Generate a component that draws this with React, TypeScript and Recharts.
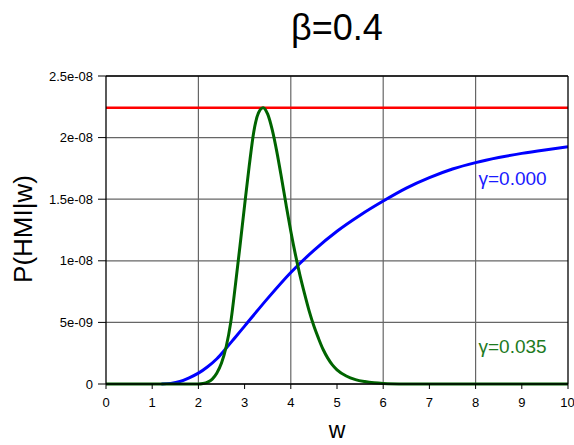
import { LineChart, Line, XAxis, YAxis, CartesianGrid, ReferenceDot } from 'recharts';

// values are in units of 1e-8
const wTicks = [0, 1, 2, 3, 4, 5, 6, 7, 8, 9, 10];
const gridW = [2, 4, 6, 8];
const pTicks = [0, 0.5, 1, 1.5, 2, 2.5];
const pTickLabels = ['0', '5e-09', '1e-08', '1.5e-08', '2e-08', '2.5e-08'];

const flatW = [0, 10];
const flatP = [2.243, 2.243];

const blueW = [1.2, 1.4, 1.6, 1.8, 2.0, 2.2, 2.4, 2.6, 2.8, 3.0, 3.5, 4.0, 4.5, 5.0, 5.5, 6.0, 6.5, 7.0, 7.5, 8.0, 8.5, 9.0, 9.5, 10.0];
const blueP = [0, 0.005, 0.02, 0.05, 0.088, 0.14, 0.205, 0.29, 0.38, 0.47, 0.695, 0.905, 1.085, 1.24, 1.37, 1.485, 1.59, 1.675, 1.745, 1.797, 1.838, 1.872, 1.9, 1.925];

const greenW = [0, 1, 2.0, 2.1, 2.2, 2.3, 2.4, 2.5, 2.6, 2.7, 2.8, 2.9, 3.0, 3.1, 3.2, 3.3, 3.4, 3.5, 3.6, 3.7, 3.8, 3.9, 4.0, 4.1, 4.2, 4.3, 4.4, 4.5, 4.6, 4.7, 4.8, 4.9, 5.0, 5.2, 5.4, 5.6, 5.8, 6.0, 6.5, 7.0, 8.0, 9.0, 10.0];
const greenP = [0, 0, 0, 0.004, 0.015, 0.04, 0.09, 0.17, 0.3, 0.5, 0.8, 1.12, 1.45, 1.77, 2.05, 2.2, 2.243, 2.19, 2.06, 1.88, 1.67, 1.45, 1.24, 1.05, 0.88, 0.73, 0.59, 0.47, 0.37, 0.28, 0.21, 0.155, 0.115, 0.065, 0.036, 0.02, 0.01, 0.005, 0.001, 0, 0, 0, 0];

const toRows = (w: number[], p: number[]) => w.map((x, i) => ({ w: x, p: p[i] }));

const flatData = toRows(flatW, flatP);
const blueData = toRows(blueW, blueP);
const greenData = toRows(greenW, greenP);

const font = '"Liberation Sans", Arial, Helvetica, sans-serif';
const tickStyle = { fontSize: 13, fill: '#000', fontFamily: font };

const renderTitle = () => (
  <text x={337} y={40} textAnchor="middle" fontSize={36} fontFamily={font} fill="#000">
    β=0.4
  </text>
);

const renderXLabel = () => (
  <text x={337} y={438} textAnchor="middle" fontSize={23} fontFamily={font} fill="#000">
    w
  </text>
);

const renderYLabel = () => (
  <text x={32} y={229} textAnchor="middle" fontSize={26} fontFamily={font} fill="#000" transform="rotate(-90, 32, 229)">
    P(HMI|w)
  </text>
);

export default function App() {
  return (
    <div style={{ position: 'absolute', left: 0, top: 0, width: 574, height: 445, background: '#fff' }}>
      <LineChart width={574} height={445} margin={{ top: 0, right: 0, bottom: 0, left: 0 }}>
        <CartesianGrid
          xAxisId="bottom"
          yAxisId="left"
          stroke="#666"
          strokeWidth={1.2}
          verticalValues={gridW}
          horizontalValues={pTicks}
        />
        <XAxis
          xAxisId="bottom"
          dataKey="w"
          type="number"
          domain={[0, 10]}
          ticks={wTicks}
          height={61}
          tickSize={5}
          tickMargin={9}
          tick={tickStyle}
          axisLine={{ stroke: '#000', strokeWidth: 1.3 }}
          tickLine={{ stroke: '#000' }}
          allowDataOverflow
          label={renderXLabel}
        />
        <XAxis
          xAxisId="top"
          orientation="top"
          dataKey="w"
          type="number"
          domain={[0, 10]}
          ticks={wTicks}
          height={76}
          tickSize={5}
          tick={false}
          axisLine={{ stroke: '#000', strokeWidth: 1.3 }}
          tickLine={{ stroke: '#000' }}
          label={renderTitle}
        />
        <YAxis
          yAxisId="left"
          type="number"
          domain={[0, 2.5]}
          ticks={pTicks}
          width={106}
          tickSize={8}
          tickMargin={5}
          tick={tickStyle}
          tickFormatter={(v: number) => pTickLabels[pTicks.indexOf(v)] ?? String(v)}
          axisLine={{ stroke: '#000', strokeWidth: 1.3 }}
          tickLine={{ stroke: '#000' }}
          label={renderYLabel}
        />
        <YAxis
          yAxisId="right"
          orientation="right"
          type="number"
          domain={[0, 2.5]}
          ticks={pTicks}
          width={6}
          tickSize={5}
          tick={false}
          axisLine={{ stroke: '#000', strokeWidth: 1.3 }}
          tickLine={{ stroke: '#000' }}
        />
        <Line
          xAxisId="bottom"
          yAxisId="left"
          data={flatData}
          dataKey="p"
          type="linear"
          stroke="#ff0000"
          strokeWidth={2.5}
          dot={false}
          isAnimationActive={false}
        />
        <Line
          xAxisId="bottom"
          yAxisId="left"
          data={blueData}
          dataKey="p"
          type="monotone"
          stroke="#0000ff"
          strokeWidth={3}
          dot={false}
          isAnimationActive={false}
        />
        <Line
          xAxisId="bottom"
          yAxisId="left"
          data={greenData}
          dataKey="p"
          type="monotone"
          stroke="#006400"
          strokeWidth={3}
          dot={false}
          isAnimationActive={false}
        />
        <ReferenceDot
          xAxisId="bottom"
          yAxisId="left"
          x={8.8}
          y={1.67}
          r={0}
          fill="none"
          stroke="none"
          label={{ value: 'γ=0.000', position: 'center', fill: '#1a1aff', fontSize: 19, fontFamily: font }}
        />
        <ReferenceDot
          xAxisId="bottom"
          yAxisId="left"
          x={8.8}
          y={0.31}
          r={0}
          fill="none"
          stroke="none"
          label={{ value: 'γ=0.035', position: 'center', fill: '#1e7a1e', fontSize: 19, fontFamily: font }}
        />
      </LineChart>
    </div>
  );
}
